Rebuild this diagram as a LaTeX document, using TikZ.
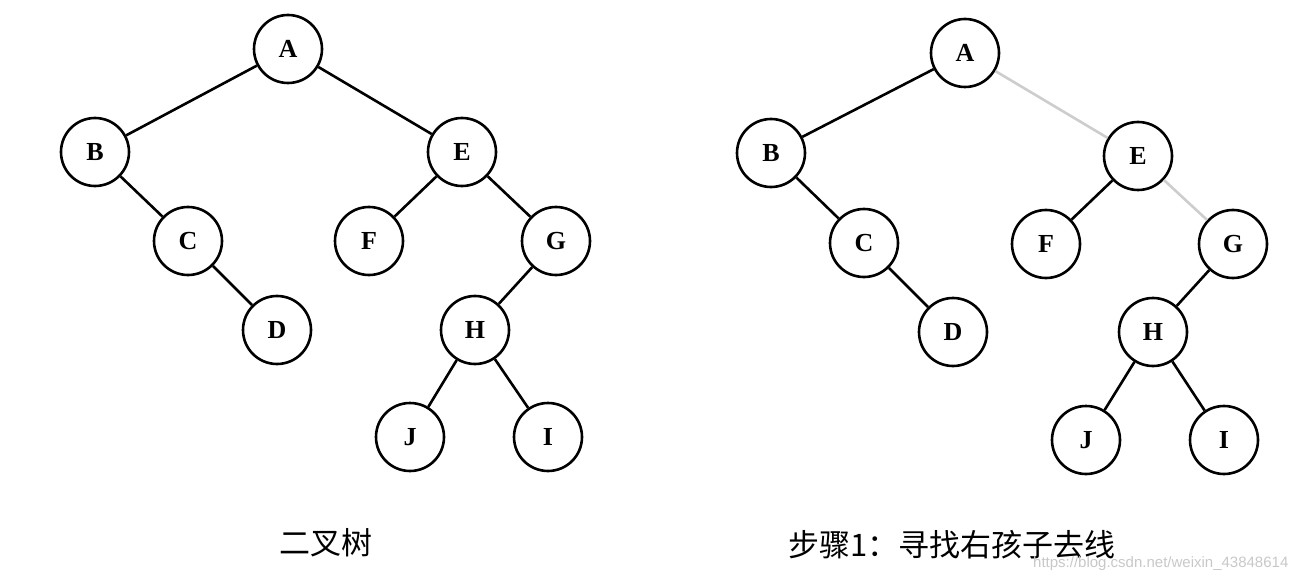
\documentclass[tikz,border=0pt]{standalone}
\usepackage{fontspec}
\setmainfont{Liberation Serif}
\newfontfamily\cjk{Noto Sans CJK SC}
\newfontfamily\wmfont{Liberation Sans}

\tikzset{every picture/.style={line width=2.6pt}}
\tikzset{
	treenode/.style={draw, circle, minimum size=68pt, inner sep=0pt, line width=2.6pt, font=\bfseries\fontsize{26}{26}\selectfont},
	edge/.style={draw, line width=2.6pt},
	goneedge/.style={draw, color={rgb, 255:red, 205; green, 205; blue, 205}, line width=2.6pt},
	caption/.style={font=\cjk\fontsize{31}{31}\selectfont}
}

\begin{document}
\begin{tikzpicture}[x=1pt,y=1pt,yscale=-1,xscale=1]
		%set diagram frame to 1301 x 572
		\useasboundingbox (0,0) rectangle (1301,572);
		
		%Left tree: nodes
		\node [treenode] (lA) at (288,49) {A};
		\node [treenode] (lB) at (95,152) {B};
		\node [treenode] (lE) at (462,152) {E};
		\node [treenode] (lC) at (188,241) {C};
		\node [treenode] (lF) at (369,241) {F};
		\node [treenode] (lG) at (556,241) {G};
		\node [treenode] (lD) at (277,330) {D};
		\node [treenode] (lH) at (475,330) {H};
		\node [treenode] (lJ) at (410,437) {J};
		\node [treenode] (lI) at (548,437) {I};
		
		%Left tree: edges
		\draw [edge] (lA) -- (lB);
		\draw [edge] (lA) -- (lE);
		\draw [edge] (lB) -- (lC);
		\draw [edge] (lC) -- (lD);
		\draw [edge] (lE) -- (lF);
		\draw [edge] (lE) -- (lG);
		\draw [edge] (lG) -- (lH);
		\draw [edge] (lH) -- (lJ);
		\draw [edge] (lH) -- (lI);
		
		%Right tree: nodes
		\node [treenode] (rA) at (965,53) {A};
		\node [treenode] (rB) at (771,153) {B};
		\node [treenode] (rE) at (1138,156) {E};
		\node [treenode] (rC) at (864,243) {C};
		\node [treenode] (rF) at (1046,244) {F};
		\node [treenode] (rG) at (1233,244) {G};
		\node [treenode] (rD) at (953,332) {D};
		\node [treenode] (rH) at (1153,332) {H};
		\node [treenode] (rJ) at (1086,440) {J};
		\node [treenode] (rI) at (1224,440) {I};
		
		%Right tree: edges (right-child lines faded)
		\draw [edge] (rA) -- (rB);
		\draw [goneedge] (rA) -- (rE);
		\draw [edge] (rB) -- (rC);
		\draw [edge] (rC) -- (rD);
		\draw [edge] (rE) -- (rF);
		\draw [goneedge] (rE) -- (rG);
		\draw [edge] (rG) -- (rH);
		\draw [edge] (rH) -- (rJ);
		\draw [edge] (rH) -- (rI);
		
		% Text Node
		\node [caption] (capL) at (326,543) {二叉树};
		% Text Node
		\node [caption] (capR) at (952,545) {步骤1：寻找右孩子去线};
		% Text Node
		\node [font=\wmfont\fontsize{15}{15}\selectfont, color={rgb, 255:red, 200; green, 200; blue, 200}, anchor=east] (mark) at (1293,564) {https://blog.csdn.net/weixin\_43848614};
		
\end{tikzpicture}
\end{document}
